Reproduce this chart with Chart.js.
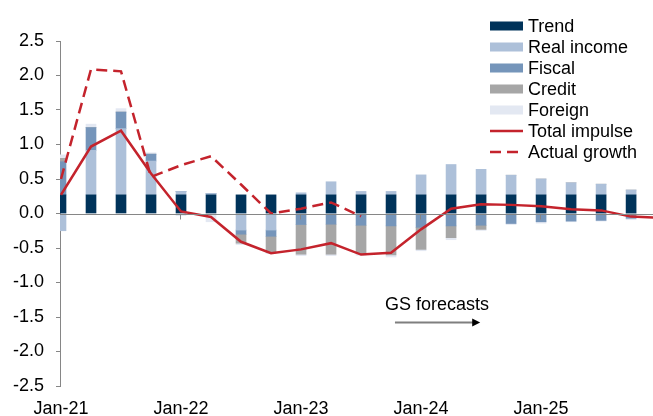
<!DOCTYPE html>
<html>
<head>
<meta charset="utf-8">
<script src="https://cdn.jsdelivr.net/npm/chart.js@4.4.1/dist/chart.umd.min.js"></script>
<style>
  body { margin: 0; background: #fff; }
  #wrap { width: 653px; height: 416px; position: relative; }
</style>
</head>
<body>
<div id="wrap"><canvas id="impulseChart"></canvas></div>
<script>
// quarters Q1-21 .. Q4-25 (index 0..19), lines run one step past the edge
const tickIdx = [0, 4, 8, 12, 16];
const tickLabels = ['Jan-21', 'Jan-22', 'Jan-23', 'Jan-24', 'Jan-25'];

const trend      = [0.27, 0.27, 0.27, 0.27, 0.27, 0.27, 0.27, 0.27, 0.27, 0.27, 0.27, 0.27, 0.27, 0.27, 0.27, 0.27, 0.27, 0.27, 0.27, 0.27];
const realIncome = [-0.25, 0.645, 0.96, 0.49, 0.05, 0.02, -0.24, -0.24, 0.03, 0.19, 0.05, 0.05, 0.29, 0.44, 0.37, 0.285, 0.23, 0.175, 0.155, 0.07];
const fiscal     = [0.48, 0.33, 0.24, 0.10, 0, 0, -0.06, -0.09, -0.16, -0.155, -0.17, -0.18, -0.20, -0.18, -0.17, -0.145, -0.12, -0.11, -0.10, -0.07];
const credit     = [0.05, 0, 0, 0, 0, 0, -0.13, -0.23, -0.43, -0.435, -0.41, -0.42, -0.32, -0.17, -0.06, 0, 0, 0, 0, 0];
const foreign    = [0.05, 0.05, 0.05, 0.02, -0.03, -0.12, -0.02, -0.02, -0.02, -0.02, -0.025, -0.03, -0.02, -0.03, -0.015, -0.015, -0.02, -0.01, -0.01, -0.02];
const totalImpulse = [0.27, 0.97, 1.20, 0.58, 0.03, -0.05, -0.41, -0.575, -0.52, -0.43, -0.595, -0.57, -0.23, 0.07, 0.135, 0.125, 0.105, 0.06, 0.045, -0.045, -0.065];
const actualGrowth = [0.5, 2.09, 2.06, 0.53, 0.70, 0.83, 0.42, 0.0, 0.07, 0.16, -0.04];

const FONT = 'Liberation Sans, Arial, sans-serif';
const RED = '#c4232c';

const pts = arr => arr.map((v, i) => ({ x: i, y: v }));

function barSet(label, arr, color) {
  return {
    type: 'bar', label: label, data: pts(arr), backgroundColor: color,
    barThickness: 10, stack: 'bars', order: 1, clip: 0, borderWidth: 0
  };
}

const legendItems = [
  { label: 'Trend', color: '#00335a', kind: 'box' },
  { label: 'Real income', color: '#adc0d9', kind: 'box' },
  { label: 'Fiscal', color: '#7595ba', kind: 'box' },
  { label: 'Credit', color: '#a6a6a6', kind: 'box' },
  { label: 'Foreign', color: '#e3e8f2', kind: 'box' },
  { label: 'Total impulse', color: RED, kind: 'line' },
  { label: 'Actual growth', color: RED, kind: 'dash' }
];

const extras = {
  id: 'extras',
  afterDatasetsDraw(chart) {
    const ctx = chart.ctx, xs = chart.scales.x, ys = chart.scales.y;
    const area = chart.chartArea;
    const y0 = Math.round(ys.getPixelForValue(0)) + 0.5;
    ctx.save();
    // zero axis line and its tick marks
    ctx.strokeStyle = '#868686';
    ctx.lineWidth = 1;
    ctx.beginPath();
    ctx.moveTo(area.left, y0);
    ctx.lineTo(area.right, y0);
    tickIdx.slice(1).forEach(i => {
      const x = Math.round(xs.getPixelForValue(i)) - 0.5;
      ctx.moveTo(x, y0);
      ctx.lineTo(x, y0 + 5);
    });
    ctx.stroke();

    // GS forecasts note
    ctx.fillStyle = '#000';
    ctx.font = '18px ' + FONT;
    ctx.textBaseline = 'alphabetic';
    ctx.textAlign = 'left';
    ctx.fillText('GS forecasts', xs.getPixelForValue(10.8), ys.getPixelForValue(-1.395));
    const ay = Math.round(ys.getPixelForValue(-1.575)) + 0.5;
    const ax1 = xs.getPixelForValue(11.13), ax2 = xs.getPixelForValue(13.97);
    ctx.strokeStyle = '#7f7f7f';
    ctx.lineWidth = 2;
    ctx.beginPath();
    ctx.moveTo(ax1, ay);
    ctx.lineTo(ax2 - 7, ay);
    ctx.stroke();
    ctx.fillStyle = '#000';
    ctx.beginPath();
    ctx.moveTo(ax2, ay);
    ctx.lineTo(ax2 - 8, ay - 4);
    ctx.lineTo(ax2 - 8, ay + 4);
    ctx.closePath();
    ctx.fill();
    ctx.restore();
  },
  afterDraw(chart) {
    const ctx = chart.ctx;
    ctx.save();
    ctx.font = '18px ' + FONT;
    ctx.textBaseline = 'middle';
    ctx.textAlign = 'left';
    legendItems.forEach((it, k) => {
      const cy = 26 + k * 21;
      if (it.kind === 'box') {
        ctx.fillStyle = it.color;
        ctx.fillRect(490, cy - 4.5, 33, 9);
      } else {
        ctx.strokeStyle = it.color;
        ctx.lineWidth = 2.5;
        ctx.setLineDash(it.kind === 'dash' ? [11, 6] : []);
        ctx.beginPath();
        ctx.moveTo(490, cy);
        ctx.lineTo(523, cy);
        ctx.stroke();
        ctx.setLineDash([]);
      }
      ctx.fillStyle = '#000';
      ctx.fillText(it.label, 528, cy + 1);
    });
    ctx.restore();
  }
};

new Chart(document.getElementById('impulseChart'), {
  data: {
    datasets: [
      {
        type: 'line', label: 'Total impulse', data: pts(totalImpulse), stack: 'l1', order: 0,
        borderColor: RED, borderWidth: 2.5, pointRadius: 0, tension: 0, fill: false
      },
      {
        type: 'line', label: 'Actual growth', data: pts(actualGrowth), stack: 'l2', order: 0,
        borderColor: RED, borderWidth: 2.5, borderDash: [11, 6], pointRadius: 0, tension: 0, fill: false
      },
      barSet('Trend', trend, '#00335a'),
      barSet('Real income', realIncome, '#adc0d9'),
      barSet('Fiscal', fiscal, '#7595ba'),
      barSet('Credit', credit, '#a6a6a6'),
      barSet('Foreign', foreign, '#e3e8f2')
    ]
  },
  options: {
    responsive: true,
    maintainAspectRatio: false,
    animation: false,
    layout: { padding: { top: 41, right: 0, bottom: 0, left: 0 } },
    plugins: { legend: { display: false }, tooltip: { enabled: false } },
    scales: {
      x: {
        type: 'linear',
        offset: false,
        min: -1 / 30,
        max: 19.73,
        afterBuildTicks: s => { s.ticks = tickIdx.map(v => ({ value: v })); },
        afterFit: s => { s.height = 30; },
        ticks: {
          autoSkip: false, maxRotation: 0, padding: 12, color: '#000',
          font: { size: 18, family: FONT },
          callback: (v, i) => tickLabels[i]
        },
        grid: { display: false, drawTicks: false, offset: false },
        border: { display: false }
      },
      y: {
        stacked: true,
        min: -2.5,
        max: 2.5,
        afterFit: s => { s.width = 60; },
        ticks: {
          stepSize: 0.5, padding: 12, color: '#000',
          font: { size: 18, family: FONT },
          callback: v => v.toFixed(1)
        },
        grid: { color: 'rgba(0,0,0,0)', tickColor: '#868686', tickLength: 4 },
        border: { display: true, color: '#868686' }
      }
    }
  },
  plugins: [extras]
});
</script>
</body>
</html>
